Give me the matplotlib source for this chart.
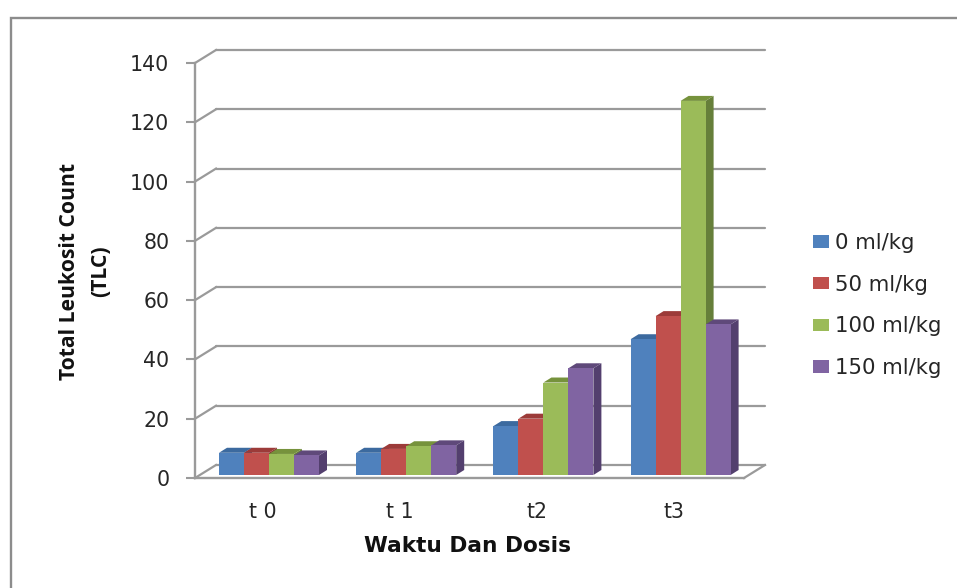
import matplotlib
matplotlib.use("Agg")
import matplotlib.pyplot as plt
from matplotlib.lines import Line2D
from matplotlib.patches import Patch
from matplotlib.transforms import Affine2D

W, H = 957, 588
DPI = 100

categories = ["t 0", "t 1", "t2", "t3"]
dose_labels = ["0 ml/kg", "50 ml/kg", "100 ml/kg", "150 ml/kg"]
dose_0 = [7.5, 7.5, 16.5, 45.8]
dose_50 = [7.5, 8.8, 19.0, 53.6]
dose_100 = [7.1, 9.7, 31.2, 126.2]
dose_150 = [6.6, 10.0, 36.0, 50.8]
series = [dose_0, dose_50, dose_100, dose_150]

front_colors = ["#4F81BD", "#C0504D", "#9BBB59", "#8064A2"]
top_colors = ["#3C6A9F", "#9C3B39", "#76923C", "#5F497A"]
side_colors = ["#37608F", "#8A3432", "#667F3A", "#533F6E"]
frame_gray = "#8C8C8C"
line_gray = "#9A9A9A"
text_color = "#262626"
font = "DejaVu Sans"

fig = plt.figure(figsize=(W / DPI, H / DPI), dpi=DPI)
fig.patch.set_facecolor("white")

# Chart border: only its top and left edges fall inside the canvas
fig.add_artist(Line2D([10.5 / W, 10.5 / W, 1], [0, 1 - 17.5 / H, 1 - 17.5 / H],
                      transform=fig.transFigure, color=frame_gray, lw=1.7,
                      solid_joinstyle="miter"))

# Front plane of the 3-D box: value axis and floor edge
left, right, top, bottom = 195, 744, 63, 478
ax = fig.add_axes([left / W, 1 - bottom / H, (right - left) / W, (bottom - top) / H])
px_per_cat = 137.2
px_per_val = (bottom - top) / 140
ax.set_xlim(-67.5 / px_per_cat, (right - left - 67.5) / px_per_cat)
ax.set_ylim(0, 140)
ax.patch.set_alpha(0)

for name in ("top", "right"):
    ax.spines[name].set_visible(False)
for name in ("left", "bottom"):
    ax.spines[name].set_color(line_gray)
    ax.spines[name].set_linewidth(1.7)

ax.set_yticks(range(0, 141, 20))
ax.set_xticks(range(len(categories)), categories)
ax.tick_params(axis="y", length=6.5, width=1.5, color=line_gray, pad=12,
               labelsize=14.8, labelcolor=text_color)
ax.tick_params(axis="x", length=0, pad=17, labelsize=14.8, labelcolor=text_color)
for lab in ax.get_xticklabels() + ax.get_yticklabels():
    lab.set_fontfamily(font)

# Back wall: gridlines, plus the connectors running to the front plane
wall_dx, wall_dy = 21, 13
wall = ax.transData + Affine2D().translate(wall_dx, wall_dy)
for v in range(0, 141, 20):
    ax.plot(ax.get_xlim(), [v, v], transform=wall, color=line_gray, lw=1.6,
            clip_on=False, zorder=1, solid_capstyle="round")
    ax.plot([ax.get_xlim()[0], ax.get_xlim()[0] + wall_dx / px_per_cat],
            [v, v + wall_dy / px_per_val], color=line_gray, lw=1.6,
            clip_on=False, zorder=1)
# Right edge of the floor
ax.plot([ax.get_xlim()[1], ax.get_xlim()[1] + wall_dx / px_per_cat],
        [0, wall_dy / px_per_val], color=line_gray, lw=1.6, clip_on=False, zorder=1)

# Bars stand mid-way into the floor; each one has a front, top and side face
base = ax.transData + Affine2D().translate(6.5, 3)
bar_w = 25 / px_per_cat
depth_x = 8 / px_per_cat
depth_y = 5 / px_per_val
z = 3
for s, values in enumerate(series):
    for c, val in enumerate(values):
        x0 = c + (s - 2) * bar_w
        x1 = x0 + bar_w
        ax.fill([x1, x1 + depth_x, x1 + depth_x, x1],
                [0, depth_y, val + depth_y, val],
                color=side_colors[s], lw=0, transform=base, clip_on=False, zorder=z)
        ax.fill([x0, x1, x1 + depth_x, x0 + depth_x],
                [val, val, val + depth_y, val + depth_y],
                color=top_colors[s], lw=0, transform=base, clip_on=False, zorder=z)
        ax.bar(x0, val, bar_w, align="edge", color=front_colors[s], lw=0,
               transform=base, clip_on=False, zorder=z + 0.5)
    z += 1

# Titles
fig.text(467 / W, 1 - 546 / H, "Waktu Dan Dosis", ha="center", va="center",
         fontsize=15.6, fontweight="bold", family=font, color="#111111")
fig.text(85 / W, 1 - 271 / H, "Total Leukosit Count\n(TLC)", ha="center", va="center",
         rotation=90, multialignment="center", fontsize=15.2, fontweight="bold",
         family="Open Sans", color="#111111", linespacing=1.65)

# Legend
handles = [Patch(facecolor=c, edgecolor="none") for c in front_colors]
fig.legend(handles, dose_labels, loc="center left",
           bbox_to_anchor=(813 / W, 1 - 305.5 / H), frameon=False,
           prop={"family": font, "size": 15.3}, labelcolor=text_color,
           handlelength=0.76, handleheight=0.52, handletextpad=0.29,
           labelspacing=1.02, borderpad=0, borderaxespad=0)

fig.savefig("out.png", dpi=DPI)
